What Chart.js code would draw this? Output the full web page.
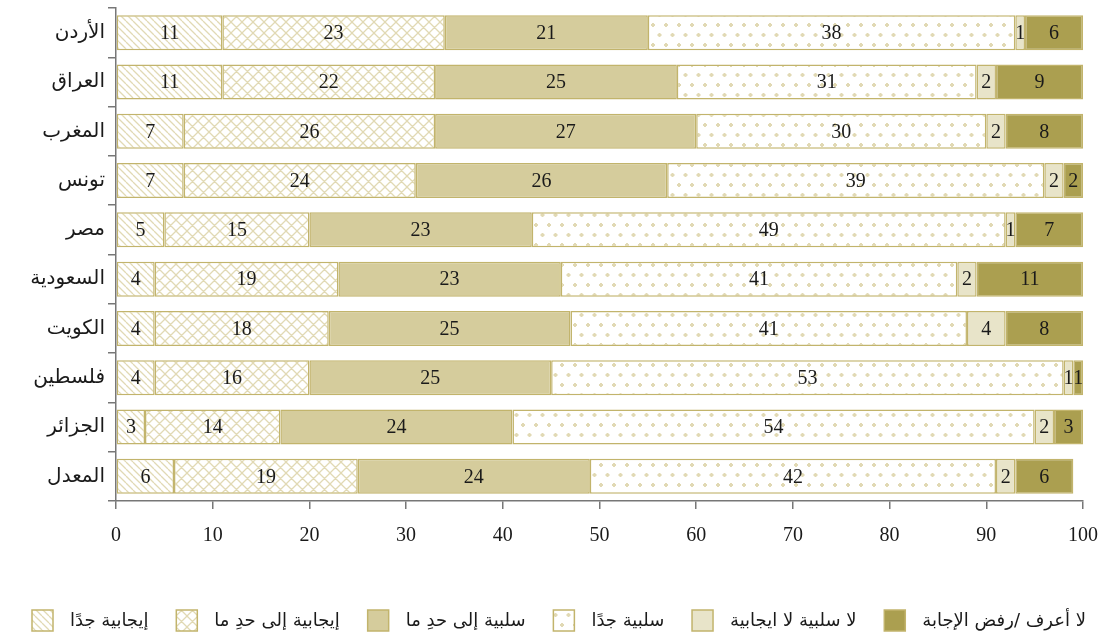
<!DOCTYPE html>
<html lang="ar">
<head>
<meta charset="utf-8">
<title>المواقف حسب البلد</title>
<script src="https://cdn.jsdelivr.net/npm/chart.js@4/dist/chart.umd.min.js"></script>
<style>
    body { margin: 0; background: #fff; }
    canvas { display: block; }
</style>
</head>
<body>
<canvas id="grafico" width="1105" height="633"></canvas>
<script>
const paises = ['الأردن', 'العراق', 'المغرب', 'تونس', 'مصر', 'السعودية', 'الكويت', 'فلسطين', 'الجزائر', 'المعدل'];

const series = ['إيجابية جدًا', 'إيجابية إلى حدِ ما', 'سلبية إلى حدِ ما', 'سلبية جدًا', 'لا سلبية لا ايجابية', 'لا أعرف /رفض الإجابة'];

const positivaMuy = [11, 11, 7, 7, 5, 4, 4, 4, 3, 6];
const positivaAlgo = [23, 22, 26, 24, 15, 19, 18, 16, 14, 19];
const negativaAlgo = [21, 25, 27, 26, 23, 23, 25, 25, 24, 24];
const negativaMuy = [38, 31, 30, 39, 49, 41, 41, 53, 54, 42];
const neutral = [1, 2, 2, 2, 1, 2, 4, 1, 2, 2];
const noSabe = [6, 9, 8, 2, 7, 11, 8, 1, 3, 6];

const ticksX = [0, 10, 20, 30, 40, 50, 60, 70, 80, 90, 100];

const BORDE = '#c2b46c';
const TRAMA = '#e1d9b4';
const FUENTE_NUM = '"Liberation Serif", "DejaVu Serif", serif';
const FUENTE_AR = '"Liberation Serif", "DejaVu Sans", serif';

function crearTrama(tipo) {
    const c = document.createElement('canvas');
    const ctx = c.getContext('2d');
    if (tipo === 'puntos') {
        c.width = 13;
        c.height = 20;
        ctx.fillStyle = '#fff';
        ctx.fillRect(0, 0, c.width, c.height);
        ctx.fillStyle = TRAMA;
        [[3, 5], [9.5, 15]].forEach(([x, y]) => {
            ctx.fillRect(x - 1, y - 2, 2, 4);
            ctx.fillRect(x - 2, y - 1, 4, 2);
        });
        return ctx.createPattern(c, 'repeat');
    }
    const s = tipo === 'cruz' ? 11 : 7;
    c.width = s;
    c.height = s;
    ctx.fillStyle = '#fff';
    ctx.fillRect(0, 0, s, s);
    ctx.strokeStyle = TRAMA;
    ctx.lineWidth = 1.3;
    ctx.beginPath();
    for (let k = -1; k <= 1; k++) {
        ctx.moveTo(k * s, 0);
        ctx.lineTo(k * s + s, s);
        if (tipo === 'cruz') {
            ctx.moveTo(k * s, s);
            ctx.lineTo(k * s + s, 0);
        }
    }
    ctx.stroke();
    return ctx.createPattern(c, 'repeat');
}

const rellenos = [
    crearTrama('diagonal'),
    crearTrama('cruz'),
    '#d5cc9c',
    crearTrama('puntos'),
    '#e8e4c9',
    '#ab9f50'
];

const valores = [positivaMuy, positivaAlgo, negativaAlgo, negativaMuy, neutral, noSabe];

const datasets = series.map((nombre, i) => ({
    label: nombre,
    data: valores[i],
    backgroundColor: rellenos[i],
    borderColor: BORDE,
    borderWidth: 1.5,
    borderSkipped: false,
    barPercentage: 0.71,
    categoryPercentage: 1
}));

const etiquetasPlugin = {
    id: 'etiquetas',
    afterDatasetsDraw(chart) {
        const ctx = chart.ctx;
        ctx.save();
        ctx.font = '20px ' + FUENTE_NUM;
        ctx.fillStyle = '#1a1a1a';
        ctx.textAlign = 'center';
        ctx.textBaseline = 'middle';
        chart.data.datasets.forEach((ds, i) => {
            chart.getDatasetMeta(i).data.forEach((barra, j) => {
                const x = (barra.x + barra.base) / 2;
                ctx.fillText(String(ds.data[j]), x, barra.y + 1);
            });
        });
        ctx.restore();
    }
};

// leyenda abajo, dibujada a mano para controlar el espaciado
const leyendaPlugin = {
    id: 'leyendaAbajo',
    afterDraw(chart) {
        const ctx = chart.ctx;
        const caja = 21;
        const sep = 17;
        const inicio = 32;
        const fin = 1086;
        const y = 610;
        ctx.save();
        ctx.font = '18px "DejaVu Sans", "Noto Sans", sans-serif';
        ctx.textBaseline = 'middle';
        ctx.textAlign = 'left';
        const anchos = chart.data.datasets.map(ds => ctx.measureText(ds.label).width);
        const total = anchos.reduce((a, b) => a + b + caja + sep, 0);
        const hueco = (fin - inicio - total) / (anchos.length - 1);
        let x = inicio;
        chart.data.datasets.forEach((ds, i) => {
            ctx.fillStyle = ds.backgroundColor;
            ctx.fillRect(x, y, caja, caja);
            ctx.strokeStyle = BORDE;
            ctx.lineWidth = 1.5;
            ctx.strokeRect(x, y, caja, caja);
            ctx.fillStyle = '#1a1a1a';
            ctx.fillText(ds.label, x + caja + sep, y + caja / 2 + 1);
            x += caja + sep + anchos[i] + hueco;
        });
        ctx.restore();
    }
};

new Chart(document.getElementById('grafico').getContext('2d'), {
    type: 'bar',
    data: { labels: paises, datasets: datasets },
    plugins: [etiquetasPlugin, leyendaPlugin],
    options: {
        indexAxis: 'y',
        responsive: false,
        animation: false,
        layout: { padding: { top: 8, right: 22, left: 0, bottom: 0 } },
        plugins: {
            legend: { display: false },
            tooltip: { enabled: false }
        },
        scales: {
            x: {
                stacked: true,
                min: 0,
                max: 100,
                afterBuildTicks: scale => {
                    scale.ticks = ticksX.map(v => ({ value: v }));
                },
                ticks: {
                    color: '#1a1a1a',
                    padding: 15,
                    maxRotation: 0,
                    font: { family: FUENTE_NUM, size: 20 }
                },
                grid: {
                    drawOnChartArea: false,
                    tickLength: 8,
                    color: '#777',
                    lineWidth: 1.5
                },
                border: { color: '#777', width: 1.5 },
                afterFit: scale => {
                    scale.height = 132;
                    scale.paddingLeft = 0;
                    scale.paddingRight = 0;
                }
            },
            y: {
                stacked: true,
                ticks: {
                    color: '#1a1a1a',
                    padding: 3,
                    font: { family: FUENTE_AR, size: 20 }
                },
                grid: {
                    drawOnChartArea: false,
                    tickLength: 8,
                    color: '#777',
                    lineWidth: 1.5,
                    offset: true
                },
                border: { color: '#777', width: 1.5 },
                afterFit: scale => {
                    scale.width = 116;
                    scale.paddingTop = 0;
                    scale.paddingBottom = 0;
                }
            }
        }
    }
});
</script>
</body>
</html>
